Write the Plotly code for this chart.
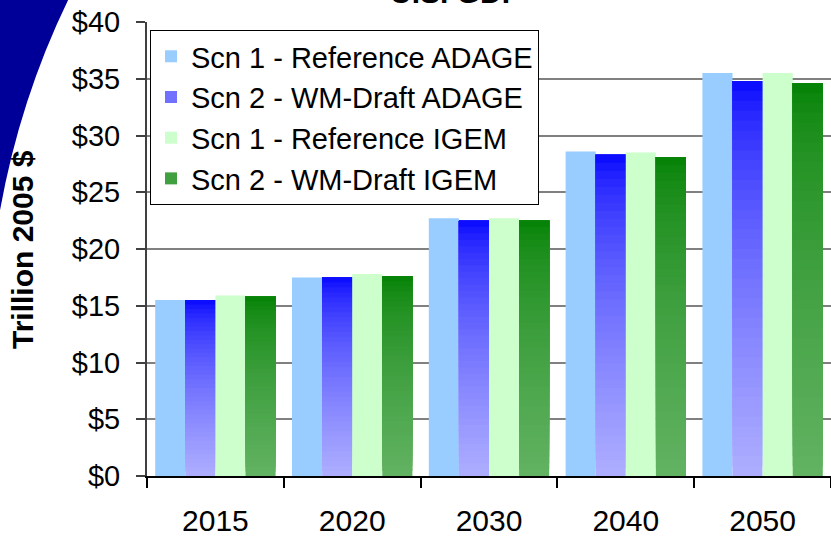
import plotly.graph_objects as go

# ---- data ----
years = ["2015", "2020", "2030", "2040", "2050"]
scn1_adage = [15.5, 17.5, 22.7, 28.6, 35.5]
scn2_adage = [15.5, 17.5, 22.5, 28.3, 34.8]
scn1_igem = [15.9, 17.8, 22.7, 28.5, 35.5]
scn2_igem = [15.8, 17.6, 22.5, 28.1, 34.6]
series_names = [
    "Scn 1 - Reference ADAGE",
    "Scn 2 - WM-Draft ADAGE",
    "Scn 1 - Reference IGEM",
    "Scn 2 - WM-Draft IGEM",
]
y_tick_vals = [0, 5, 10, 15, 20, 25, 30, 35, 40]
y_tick_text = ["$0", "$5", "$10", "$15", "$20", "$25", "$30", "$35", "$40"]

# ---- layout geometry (pixels) ----
W, H = 831, 537
L, R, T, B = 147, 0, 22, 57
PW, PH = W - L - R, H - T - B


def px_x(x):
    return (x - L) / PW


def px_y(y):
    return (H - B - y) / PH


FONT = "Arial, Liberation Sans, sans-serif"
N_SEG = 40


def hex2rgb(h):
    h = h.lstrip("#")
    return [int(h[i:i + 2], 16) for i in (0, 2, 4)]


def grad_color(top, bottom, t_from_top):
    a, b = hex2rgb(top), hex2rgb(bottom)
    f = t_from_top ** 0.6
    c = [round(a[i] + (b[i] - a[i]) * f) for i in range(3)]
    return "rgb(%d,%d,%d)" % tuple(c)


fig = go.Figure()


def add_solid(values, name, color, group):
    fig.add_trace(go.Bar(
        x=years, y=values, name=name, marker_color=color,
        marker_line_width=0, offsetgroup=group, legendgroup=group,
        showlegend=True))


def add_gradient(values, name, top, bottom, group):
    # each segment spans from its own base up to the bar top; later
    # (higher) segments paint over the earlier ones -> seamless gradient
    for k in range(N_SEG):
        frac0 = k / N_SEG
        t_from_top = 1 - (k + 0.5) / N_SEG
        fig.add_trace(go.Bar(
            x=years,
            y=[v * (1 - frac0) for v in values],
            base=[v * frac0 for v in values],
            name=name,
            marker_color=grad_color(top, bottom, t_from_top),
            marker_line_width=0,
            offsetgroup=group, legendgroup=group,
            showlegend=(k == N_SEG // 2),
            hovertemplate="%{x}: $%{customdata}<extra>" + name + "</extra>",
            customdata=values,
        ))


add_solid(scn1_adage, series_names[0], "#99CCFF", "g1")
add_gradient(scn2_adage, series_names[1], "#0000FF", "#AEAEFF", "g2")
add_solid(scn1_igem, series_names[2], "#CCFFCC", "g3")
add_gradient(scn2_igem, series_names[3], "#008000", "#62B262", "g4")

# decorative blue swoosh in the top-left corner
p = lambda x, y: "%.4f,%.4f" % (px_x(x), px_y(y))
swoosh = "M %s L %s L %s Q %s %s L %s Z" % (
    p(-2, -2), p(69, -2), p(68, 0), p(20, 100), p(0, 212), p(-2, 212))

fig.update_layout(
    width=W, height=H,
    margin=dict(l=L, r=R, t=T, b=B, pad=0),
    paper_bgcolor="white", plot_bgcolor="white",
    barmode="group", bargap=0.12, bargroupgap=0,
    font=dict(family=FONT, color="black"),
    showlegend=True,
    legend=dict(
        x=px_x(150), y=px_y(30), xanchor="left", yanchor="top",
        bgcolor="white", bordercolor="black", borderwidth=1,
        font=dict(family=FONT, size=29, color="black"),
        tracegroupgap=0, traceorder="normal",
    ),
    xaxis=dict(
        type="category", showline=True, linecolor="black", linewidth=2,
        ticks="outside", tickson="boundaries", ticklen=10, tickwidth=1.5,
        tickcolor="black", showgrid=False,
        tickfont=dict(family=FONT, size=30, color="black"),
        ticklabelstandoff=17,
    ),
    yaxis=dict(
        range=[0, 40], tickmode="array", tickvals=y_tick_vals,
        ticktext=y_tick_text,
        showline=True, linecolor="#404040", linewidth=2,
        ticks="outside", ticklen=9, tickwidth=1.5, tickcolor="#404040",
        showgrid=True, gridcolor="#808080", gridwidth=2, zeroline=False,
        tickfont=dict(family=FONT, size=29, color="black"),
        ticklabelstandoff=10,
    ),
    shapes=[dict(type="path", xref="paper", yref="paper", path=swoosh,
                 fillcolor="#000099", line=dict(width=0), layer="above")],
    annotations=[
        dict(text="<b>U.S. GDP</b>", xref="paper", yref="paper",
             x=px_x(456), y=px_y(-8), xanchor="center", yanchor="middle",
             showarrow=False, font=dict(family=FONT, size=30, color="black")),
        dict(text="<b>Trillion 2005 $</b>", xref="paper", yref="paper",
             x=px_x(23), y=px_y(252), xanchor="center", yanchor="middle",
             textangle=-90, showarrow=False,
             font=dict(family=FONT, size=30, color="black")),
    ],
)

fig.write_html(
    "out.html",
    config={"displayModeBar": False},
    post_script="document.body.style.margin='0';document.body.style.overflow='hidden';",
)
